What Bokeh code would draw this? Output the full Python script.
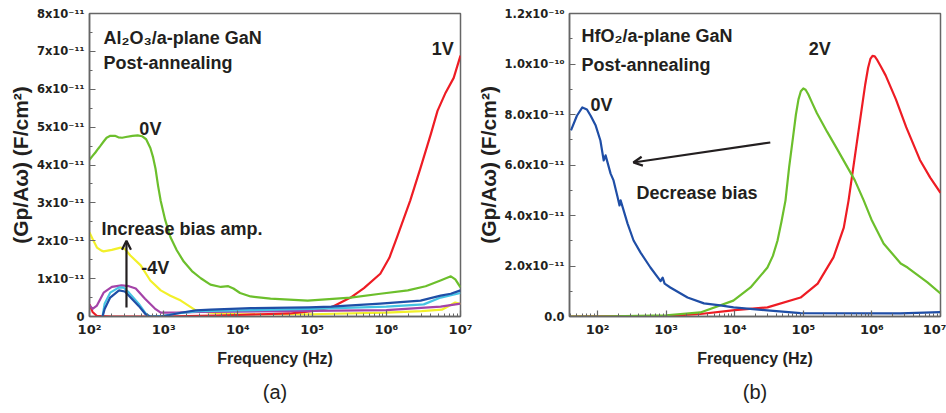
from bokeh.plotting import figure
from bokeh.layouts import row
from bokeh.models import FixedTicker, Label, Arrow, OpenHead, Title, Range1d
from bokeh.embed import file_html
from bokeh.resources import INLINE

# ---------------- panel (a): Al2O3 / a-plane GaN ----------------
# Gp/(A*omega) in units of 1e-11 F/cm^2, frequency in Hz
a_f_0v = [100, 110, 120, 131, 141, 155, 170, 191, 220, 245, 275, 309, 380, 447,
          510, 580, 661, 720, 776, 840, 912, 1047, 1230, 1500, 1862, 2400,
          3162, 4266, 5888, 7413, 8700, 10700, 14800, 27500, 87100, 331000,
          832000, 1950000, 3390000, 5370000, 7410000, 8510000, 10000000]
a_v_0v = [4.14, 4.24, 4.33, 4.43, 4.51, 4.62, 4.72, 4.77, 4.77, 4.73, 4.72,
          4.74, 4.77, 4.78, 4.76, 4.68, 4.45, 4.20, 3.90, 3.45, 3.05, 2.55,
          2.10, 1.75, 1.45, 1.20, 1.01, 0.84, 0.78, 0.80, 0.74, 0.62, 0.53,
          0.47, 0.42, 0.50, 0.60, 0.69, 0.80, 0.95, 1.06, 0.98, 0.77]

a_f_1v = [100, 110, 125, 200, 1000, 10000, 50000, 100000, 180000, 330000,
          500000, 830000, 1100000, 1400000, 2100000, 2900000, 4000000,
          4900000, 6300000, 8100000, 10000000]
a_v_1v = [0.32, 0.12, 0.02, 0.0, 0.0, 0.04, 0.08, 0.14, 0.24, 0.50, 0.75,
          1.13, 1.55, 2.10, 3.06, 3.93, 4.83, 5.43, 5.91, 6.30, 6.89]

a_f_yel = [100, 110, 126, 145, 155, 200, 263, 300, 355, 490, 660, 912, 1230,
           1700, 2700, 4270, 10000, 100000, 1000000, 3000000, 5600000,
           8500000, 10000000]
a_v_yel = [2.22, 2.05, 1.82, 1.74, 1.72, 1.76, 1.82, 1.78, 1.61, 1.35, 0.95,
           0.69, 0.55, 0.42, 0.16, 0.10, 0.06, 0.06, 0.10, 0.14, 0.18, 0.37,
           0.33]

a_f_pur = [100, 110, 126, 155, 200, 270, 340, 420, 560, 760, 912, 1500, 3000,
           10000, 100000, 1000000, 5400000, 10000000]
a_v_pur = [0.30, 0.20, 0.29, 0.63, 0.78, 0.82, 0.80, 0.74, 0.47, 0.21, 0.10,
           0.10, 0.12, 0.13, 0.15, 0.17, 0.26, 0.34]

a_f_cyan = [150, 160, 190, 250, 290, 340, 460, 570, 650, 1000, 1500, 3000,
            10000, 100000, 1000000, 3200000, 5400000, 10000000]
a_v_cyan = [0.0, 0.34, 0.63, 0.77, 0.76, 0.63, 0.34, 0.08, 0.0, 0.02, 0.08,
            0.14, 0.16, 0.20, 0.26, 0.32, 0.50, 0.62]

a_f_blue = [150, 160, 190, 250, 300, 340, 460, 570, 650, 900, 1200, 1700, 2700,
            4300, 10000, 15000, 90000, 180000, 830000, 2900000, 5400000,
            7400000, 10000000]
a_v_blue = [0.0, 0.20, 0.50, 0.69, 0.66, 0.55, 0.28, 0.06, 0.0, 0.0, 0.04,
            0.10, 0.16, 0.18, 0.21, 0.22, 0.24, 0.26, 0.34, 0.42, 0.55, 0.60,
            0.69]

# ---------------- panel (b): HfO2 / a-plane GaN ----------------
b_f_0v = [41, 50, 60, 70, 79, 94, 110, 123, 131, 155, 171, 195, 209, 217, 274,
          335, 424, 590, 830, 890, 950, 1150, 2050, 3560, 6150, 9600, 30000,
          91000, 2600000, 10000000]
b_v_0v = [7.37, 7.95, 8.28, 8.20, 7.96, 7.56, 6.97, 6.18, 6.38, 5.66, 5.39,
          4.75, 4.40, 4.60, 3.68, 3.01, 2.53, 1.94, 1.40, 1.54, 1.30, 1.15,
          0.75, 0.52, 0.44, 0.36, 0.24, 0.13, 0.12, 0.17]

b_f_mid = [39, 100, 1000, 3160, 9550, 17000, 30000, 36000, 42000, 48000,
           55000, 62000, 70800, 78000, 85000, 92000, 100000, 108000, 118000,
           135000, 158000, 224000, 316000, 562000, 759000, 1000000, 1479000,
           2630000, 3311000, 6457000, 10000000]
b_v_mid = [0.0, 0.0, 0.05, 0.16, 0.63, 1.15, 1.94, 2.40, 3.00, 3.75,
           4.60, 5.90, 7.10, 8.00, 8.60, 8.92, 9.03, 8.98, 8.80, 8.45,
           8.05, 7.30, 6.60, 5.40, 4.60, 3.80, 2.89, 2.10, 1.94, 1.35, 0.91]

b_f_2v = [39, 1000, 3160, 10000, 30000, 91200, 162000, 275000, 389000, 457000,
          562000, 708000, 800000, 880000, 950000, 1020000, 1100000, 1200000,
          1350000, 1585000, 2239000, 3162000, 5012000, 7079000, 10000000]
b_v_2v = [0.0, 0.02, 0.10, 0.25, 0.36, 0.75, 1.30, 2.34, 3.52, 4.60, 6.30,
          8.20, 9.20, 9.85, 10.20, 10.32, 10.30, 10.15, 9.90, 9.55, 8.60,
          7.50, 6.20, 5.50, 4.90]

# ---------------- tick labels ----------------
x_tick_vals = [100, 1000, 10000, 100000, 1000000, 10000000]
x_tick_text = ["10²", "10³", "10⁴", "10⁵", "10⁶", "10⁷"]

a_y_ticks = [0, 1, 2, 3, 4, 5, 6, 7, 8]
a_y_text = ["0", "1x10⁻¹¹", "2x10⁻¹¹", "3x10⁻¹¹", "4x10⁻¹¹", "5x10⁻¹¹",
            "6x10⁻¹¹", "7x10⁻¹¹", "8x10⁻¹¹"]
b_y_ticks = [0, 2, 4, 6, 8, 10, 12]
b_y_text = ["0.0", "2.0x10⁻¹¹", "4.0x10⁻¹¹", "6.0x10⁻¹¹", "8.0x10⁻¹¹",
            "1.0x10⁻¹⁰", "1.2x10⁻¹⁰"]

GREEN = "#6cbf2c"
RED = "#ee1c24"
YELLOW = "#f2f02a"
PURPLE = "#a443a8"
CYAN = "#45c3e3"
BLUE = "#1f4ea6"
INK = "#231f20"

FONT = "Liberation Sans"
TICK_FONT = "DejaVu Sans"

log_minor = [k * 10 ** d for d in range(1, 7) for k in range(2, 10)]


def make_panel(x_lo, y_hi, y_ticks, y_text, y_minor, left_border, right_border, tag):
    p = figure(x_axis_type="log", x_range=Range1d(x_lo, 1e7),
               y_range=Range1d(0, y_hi), frame_width=371, frame_height=303,
               min_border_left=left_border, min_border_right=right_border,
               min_border_top=13, min_border_bottom=40,
               output_backend="svg", toolbar_location=None)
    p.grid.visible = False
    p.outline_line_color = "#666666"
    p.outline_line_width = 1.5
    p.background_fill_color = "white"
    p.border_fill_color = "white"

    p.xaxis.ticker = FixedTicker(ticks=x_tick_vals, minor_ticks=log_minor)
    p.xaxis.major_label_overrides = dict(zip(x_tick_vals, x_tick_text))
    p.yaxis.ticker = FixedTicker(ticks=y_ticks, minor_ticks=y_minor)
    p.yaxis.major_label_overrides = dict(zip(y_ticks, y_text))

    for ax in (p.xaxis[0], p.yaxis[0]):
        ax.axis_line_color = "#666666"
        ax.axis_line_width = 1.5
        ax.major_tick_line_color = "#666666"
        ax.minor_tick_line_color = "#666666"
        ax.major_tick_line_width = 1.2
        ax.minor_tick_line_width = 1
        ax.major_tick_in = 6
        ax.major_tick_out = 0
        ax.minor_tick_in = 3
        ax.minor_tick_out = 0
        ax.major_label_text_font = TICK_FONT
        ax.major_label_text_font_style = "bold"
        ax.major_label_text_font_size = "11.5px"
        ax.major_label_text_color = INK
        ax.axis_label_text_font = FONT
        ax.axis_label_text_font_style = "bold"
        ax.axis_label_text_color = INK

    p.xaxis.major_label_text_font_size = "13px"
    p.xaxis.axis_label = "Frequency (Hz)"
    p.xaxis.axis_label_text_font_size = "16px"
    p.xaxis.axis_label_standoff = 10
    p.xaxis.major_label_standoff = 5
    p.yaxis.axis_label = "(Gp/Aω) (F/cm²)"
    p.yaxis.axis_label_text_font_size = "21px"
    p.yaxis.axis_label_standoff = 2
    p.yaxis.major_label_standoff = 5

    p.add_layout(Title(text=tag, align="center", text_font=FONT,
                       text_font_size="20px", text_font_style="normal",
                       text_color=INK, standoff=18), "below")
    return p


def note(p, x, y, text, align="left"):
    p.add_layout(Label(x=x, y=y, text=text, text_font=FONT,
                       text_font_style="bold", text_font_size="18px",
                       text_color=INK, text_align=align,
                       text_baseline="alphabetic"))


# panel (a)
pa = make_panel(100, 8, a_y_ticks, a_y_text, [0.5 + i for i in range(8)], 89, 13, "(a)")
for f, v, c in [(a_f_yel, a_v_yel, YELLOW), (a_f_1v, a_v_1v, RED),
                (a_f_pur, a_v_pur, PURPLE), (a_f_cyan, a_v_cyan, CYAN),
                (a_f_blue, a_v_blue, BLUE), (a_f_0v, a_v_0v, GREEN)]:
    pa.line(f, v, line_color=c, line_width=2.2, line_join="round")

note(pa, 154, 7.36, "Al₂O₃/a-plane GaN")
note(pa, 154, 6.68, "Post-annealing")
note(pa, 8.1e6, 7.05, "1V", align="right")
note(pa, 470, 4.96, "0V")
note(pa, 145, 2.32, "Increase bias amp.")
note(pa, 500, 1.27, "-4V")
pa.add_layout(Arrow(end=OpenHead(size=9, line_width=2.2, line_color=INK),
                    x_start=315, y_start=0.24, x_end=315, y_end=2.0,
                    line_width=2.2, line_color=INK))

# panel (b)
pb = make_panel(39, 12, b_y_ticks, b_y_text, [1 + 2 * i for i in range(6)], 96, 6, "(b)")
for f, v, c in [(b_f_2v, b_v_2v, RED), (b_f_mid, b_v_mid, GREEN),
                (b_f_0v, b_v_0v, BLUE)]:
    pb.line(f, v, line_color=c, line_width=2.2, line_join="round")

note(pb, 58.4, 11.09, "HfO₂/a-plane GaN")
note(pb, 58.4, 9.98, "Post-annealing")
note(pb, 79, 8.36, "0V")
note(pb, 1.2e5, 10.61, "2V")
note(pb, 370, 4.91, "Decrease bias")
pb.add_layout(Arrow(end=OpenHead(size=9, line_width=2.2, line_color=INK),
                    x_start=33000, y_start=6.89, x_end=333, y_end=6.1,
                    line_width=2.2, line_color=INK))

layout = row(pa, pb)
open("out.html", "w").write(file_html(layout, INLINE))
